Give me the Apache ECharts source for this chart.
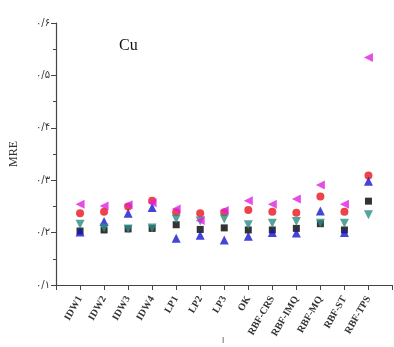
<!DOCTYPE html>
<html>
<head>
<meta charset="UTF-8">
<title>Cu MRE</title>
<script src="https://cdn.jsdelivr.net/npm/echarts@6/dist/echarts.min.js"></script>
<style>
  body{margin:0;background:#fff}
</style>
</head>
<body>
<div id="main" style="width:394px;height:347px"></div>
<script>
// روش‌ها
var methods = ['IDW1','IDW2','IDW3','IDW4','LP1','LP2','LP3','OK','RBF-CRS','RBF-IMQ','RBF-MQ','RBF-ST','RBF-TPS'];
var yTicks = ['۰/۱','۰/۲','۰/۳','۰/۴','۰/۵','۰/۶'];

// values
var blackSq   = [0.203, 0.205, 0.207, 0.208, 0.215, 0.206, 0.209, 0.205, 0.205, 0.208, 0.217, 0.205, 0.260];
var redCirc   = [0.237, 0.240, 0.250, 0.261, 0.239, 0.237, 0.239, 0.243, 0.240, 0.238, 0.269, 0.240, 0.309];
var blueUp    = [0.201, 0.221, 0.237, 0.248, 0.189, 0.195, 0.186, 0.193, 0.200, 0.199, 0.241, 0.200, 0.298];
var magLeft   = [0.254, 0.251, 0.253, 0.257, 0.245, 0.223, 0.242, 0.261, 0.254, 0.264, 0.291, 0.254, 0.534];
var tealDown  = [0.216, 0.209, 0.207, 0.209, 0.226, 0.222, 0.226, 0.215, 0.218, 0.221, 0.218, 0.218, 0.234];

function pts(arr){
  return arr.map(function(v,i){ return [i+1, v]; });
}

var chart = echarts.init(document.getElementById('main'));
var serif = '"Liberation Serif", "DejaVu Serif", serif';
var axisCol = '#444';

function sc(name, data, symbol, rot, color, size){
  return {
    name: name, type: 'scatter', data: pts(data),
    symbol: symbol, symbolRotate: rot, symbolSize: size,
    itemStyle: {color: color}
  };
}

chart.setOption({
  animation: false,
  grid: {left: 53, right: 1, top: 23, bottom: 62},
  graphic: [
    {type: 'text', left: 119, top: 38, style: {text: 'Cu', font: '16px ' + serif, fill: '#111'}},
    {type: 'text', left: 222, top: 337, style: {text: 'ا', font: '8px "DejaVu Sans"', fill: '#444'}}
  ],
  xAxis: {
    type: 'value', min: 0, max: 14, interval: 1,
    splitLine: {show: false},
    axisLine: {lineStyle: {color: axisCol, width: 1.2}},
    axisTick: {length: 5, lineStyle: {color: axisCol}},
    axisLabel: {
      rotate: 60, margin: 12, fontFamily: serif, fontSize: 10, fontWeight: 'bold', color: '#333',
      formatter: function(v){ return methods[v-1] || ''; }
    }
  },
  yAxis: {
    type: 'value', min: 0.1, max: 0.6, interval: 0.1,
    name: 'MRE', nameLocation: 'middle', nameGap: 36, nameRotate: 90,
    nameTextStyle: {fontFamily: serif, fontSize: 12, color: '#333'},
    splitLine: {show: false},
    axisLine: {show: true, lineStyle: {color: axisCol, width: 1.2}},
    axisTick: {show: true, length: 5, lineStyle: {color: axisCol}},
    minorTick: {show: true, splitNumber: 2, length: 3, lineStyle: {color: axisCol}},
    axisLabel: {
      margin: 6, fontFamily: '"DejaVu Sans"', fontSize: 10, color: '#333',
      formatter: function(v){ return yTicks[Math.round(v*10)-1]; }
    }
  },
  series: [
    sc('sq', blackSq, 'rect', 0, '#000000', 7),
    sc('circ', redCirc, 'circle', 0, '#e8141c', 8),
    sc('up', blueUp, 'triangle', 0, '#1515d0', 9),
    sc('down', tealDown, 'triangle', 180, '#2a8c84', 9),
    sc('left', magLeft, 'triangle', 90, '#e020e0', 9)
  ]
});
</script>
</body>
</html>
